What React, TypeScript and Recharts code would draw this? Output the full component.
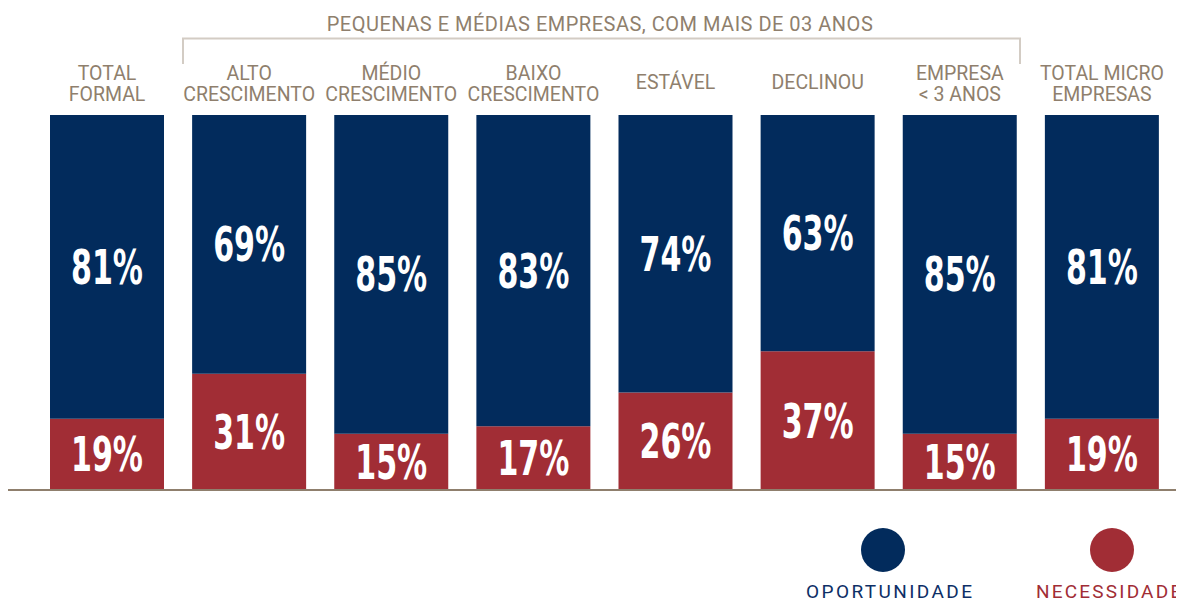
import { Bar, BarChart, LabelList, Legend, XAxis, YAxis } from "recharts";

const categories = [
  "TOTAL\nFORMAL",
  "ALTO\nCRESCIMENTO",
  "MÉDIO\nCRESCIMENTO",
  "BAIXO\nCRESCIMENTO",
  "ESTÁVEL",
  "DECLINOU",
  "EMPRESA\n< 3 ANOS",
  "TOTAL MICRO\nEMPRESAS",
];
const oportunidade = [81, 69, 85, 83, 74, 63, 85, 81];
const necessidade = [19, 31, 15, 17, 26, 37, 15, 19];
const groupTitle = "PEQUENAS E MÉDIAS EMPRESAS, COM MAIS DE 03 ANOS";

const BLUE = "#022b5c";
const RED = "#a12d35";
const TAUPE = "#8f7f6d";
const FONT = "Roboto, 'Liberation Sans', sans-serif";

const data = categories.map((name, i) => ({
  name,
  oportunidade: oportunidade[i],
  necessidade: necessidade[i],
}));

function CategoryTick(props: any) {
  const { x, payload } = props;
  const lines = String(payload.value).split("\n");
  const top = lines.length === 1 ? 81 : 72;
  return (
    <text x={x} y={top} textAnchor="middle" fontFamily={FONT} fontSize={19.5} fill={TAUPE}>
      {lines.map((l, i) => (
        <tspan key={i} x={x} dy={i === 0 ? 0 : 21}>
          {l}
        </tspan>
      ))}
    </text>
  );
}

function PercentLabel(props: any) {
  const { x, y, width, height, value } = props;
  return (
    <text
      x={x + width / 2}
      y={y + height / 2 + 17}
      textAnchor="middle"
      fontFamily="'DejaVu Sans Condensed', 'DejaVu Sans', sans-serif"
      fontWeight="bold"
      fontSize={48}
      fill="#ffffff"
      textLength={72}
      lengthAdjust="spacingAndGlyphs"
    >
      {`${value}%`}
    </text>
  );
}

function LegendContent() {
  return (
    <svg width={1176} height={110} style={{ display: "block", overflow: "visible" }}>
      <circle cx={875} cy={58} r={22} fill={BLUE} />
      <text x={798} y={106} fontFamily={FONT} fontSize={19} fill="#0d2f66" textLength={166} lengthAdjust="spacing">
        OPORTUNIDADE
      </text>
      <circle cx={1104} cy={58} r={22} fill={RED} />
      <text x={1028} y={106} fontFamily={FONT} fontSize={19} fill={RED} letterSpacing={2.2}>
        NECESSIDADE
      </text>
    </svg>
  );
}

export default function App() {
  const pad = { left: 28, right: 11 };
  return (
    <div style={{ position: "relative", width: 1176, height: 594 }}>
      <BarChart width={1176} height={594} data={data} margin={{ top: 0, right: 0, bottom: 0, left: 0 }}>
        <XAxis
          xAxisId="top"
          orientation="top"
          dataKey="name"
          height={107}
          axisLine={false}
          tickLine={false}
          interval={0}
          tick={CategoryTick}
          padding={pad}
        />
        <XAxis
          xAxisId="bottom"
          dataKey="name"
          height={2}
          tick={false}
          tickLine={false}
          axisLine={{ stroke: TAUPE, strokeWidth: 2 }}
          padding={pad}
        />
        <YAxis hide domain={[0, 100]} />
        <Bar xAxisId="bottom" dataKey="necessidade" stackId="a" fill={RED} barSize={114} isAnimationActive={false}>
          <LabelList dataKey="necessidade" content={PercentLabel} />
        </Bar>
        <Bar xAxisId="bottom" dataKey="oportunidade" stackId="a" fill={BLUE} barSize={114} isAnimationActive={false}>
          <LabelList dataKey="oportunidade" content={PercentLabel} />
        </Bar>
        <Legend verticalAlign="bottom" height={110} content={LegendContent} wrapperStyle={{ left: 0, top: 484 }} />
      </BarChart>
      <svg width={1176} height={70} style={{ position: "absolute", left: 0, top: 0, pointerEvents: "none" }}>
        <text x={592} y={23} textAnchor="middle" fontFamily={FONT} fontSize={20} letterSpacing={0.5} fill={TAUPE}>
          {groupTitle}
        </text>
        <path d="M175,56 V30.5 H1012 V56" fill="none" stroke="#d3ccc4" strokeWidth={2} />
      </svg>
    </div>
  );
}
